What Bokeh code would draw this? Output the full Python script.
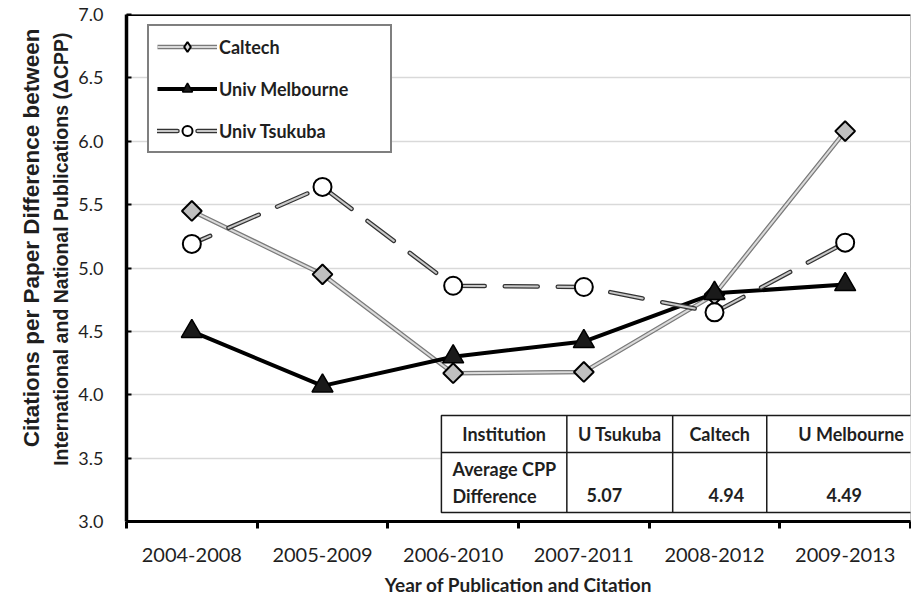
import math
from bokeh.plotting import figure
from bokeh.models import (Range1d, FixedTicker, Legend, LegendItem, Span, Title,
                          ColumnDataSource, NumeralTickFormatter)
from bokeh.core.properties import value
from bokeh.embed import file_html
from bokeh.resources import INLINE

# ---------------- data ----------------
periods = ["2004-2008", "2005-2009", "2006-2010", "2007-2011", "2008-2012", "2009-2013"]
caltech = [5.45, 4.95, 4.17, 4.18, 4.79, 6.08]
melbourne = [4.50, 4.07, 4.30, 4.42, 4.80, 4.87]
tsukuba = [5.19, 5.64, 4.86, 4.85, 4.65, 5.20]
y_ticks = [3.0, 3.5, 4.0, 4.5, 5.0, 5.5, 6.0, 6.5, 7.0]
grid_ticks = [3.5, 4.0, 4.5, 5.0, 5.5, 6.0, 6.5]

series_names = ["Caltech", "Univ Melbourne", "Univ Tsukuba"]
x_title = "Year of Publication and Citation"
y_title_lines = ["Citations per Paper Difference between",
                 "International and National Publications (\u0394CPP)"]

table_header = ["Institution", "U Tsukuba", "Caltech", "U Melbourne"]
table_row_label = "Average CPP\nDifference"
table_values = ["5.07", "4.94", "4.49"]

# ---------------- layout (table geometry in data units) ----------------
tbl_cols = [1.91, 2.87, 3.68, 4.40, 5.69]
tbl_rows = [3.836, 3.544, 3.071]
tbl_label_x = 1.994
tbl_value_x = [3.157, 4.091, 4.993]
tbl_value_y = 3.213

FONT = "Lato"
TXT = "#1f1f1f"

x = list(range(len(periods)))
src = ColumnDataSource(dict(x=x, caltech=caltech, melbourne=melbourne, tsukuba=tsukuba))

p = figure(width=911, height=605, output_backend="svg", toolbar_location=None,
           x_range=Range1d(-0.5, len(periods) - 0.5), y_range=Range1d(3.0, 7.0),
           min_border_left=126, min_border_right=1, min_border_top=14, min_border_bottom=84)
p.background_fill_color = "white"
p.border_fill_color = "white"
p.outline_line_color = "#bfbfbf"
p.outline_line_width = 1

# grid
p.xgrid.visible = False
p.ygrid.ticker = FixedTicker(ticks=grid_ticks)
p.ygrid.grid_line_color = "#d9d9d9"
p.ygrid.grid_line_width = 1.5

# x axis
xa = p.xaxis[0]
xa.ticker = FixedTicker(ticks=x, minor_ticks=[i - 0.5 for i in range(len(periods) + 1)])
xa.major_label_overrides = {i: lab for i, lab in enumerate(periods)}
xa.major_tick_in = 0
xa.major_tick_out = 0
xa.minor_tick_in = 0
xa.minor_tick_out = 7
xa.minor_tick_line_width = 3
xa.minor_tick_line_color = "black"
xa.axis_line_width = 3
xa.axis_line_color = "black"
xa.major_label_standoff = 19
xa.major_label_text_font = FONT
xa.major_label_text_font_size = "20px"
xa.major_label_text_color = TXT
xa.axis_label = x_title
xa.axis_label_text_font = FONT
xa.axis_label_text_font_style = "bold"
xa.axis_label_text_font_size = "19px"
xa.axis_label_text_color = TXT
xa.axis_label_standoff = 8

# y axis
ya = p.yaxis[0]
ya.ticker = FixedTicker(ticks=y_ticks)
ya.formatter = NumeralTickFormatter(format="0.0")
ya.major_tick_in = 5
ya.major_tick_out = 0
ya.major_tick_line_width = 2
ya.minor_tick_line_color = None
ya.axis_line_width = 3.5
ya.axis_line_color = "black"
ya.major_label_standoff = 23
ya.major_label_text_font = FONT
ya.major_label_text_font_size = "18px"
ya.major_label_text_color = TXT

# y title as two stacked left titles (inner line first), ends anchored near the top
p.add_layout(Title(text=y_title_lines[1], align="right", offset=18, standoff=8,
                   text_font="Liberation Sans", text_font_style="bold",
                   text_font_size="19.5px", text_color=TXT), "left")
p.add_layout(Title(text=y_title_lines[0], align="right", offset=14, standoff=0,
                   text_font="Liberation Sans", text_font_style="bold",
                   text_font_size="22.5px", text_color=TXT), "left")

# top border line
p.add_layout(Span(location=7.0, dimension="width", line_color="black", line_width=3))

# ---------------- table ----------------
p.quad(left=[tbl_cols[0]], right=[tbl_cols[-1]], top=[tbl_rows[0]], bottom=[tbl_rows[-1]],
       fill_color="white", line_color="#1a1a1a", line_width=1.5)
p.segment(x0=tbl_cols[1:-1], x1=tbl_cols[1:-1],
          y0=[tbl_rows[0]] * (len(tbl_cols) - 2), y1=[tbl_rows[-1]] * (len(tbl_cols) - 2),
          line_color="#1a1a1a", line_width=1.5)
p.segment(x0=[tbl_cols[0]], x1=[tbl_cols[-1]], y0=[tbl_rows[1]], y1=[tbl_rows[1]],
          line_color="#1a1a1a", line_width=1.5)
hdr_x = [(tbl_cols[i] + tbl_cols[i + 1]) / 2 for i in range(len(tbl_cols) - 1)]
hdr_y = (tbl_rows[0] + tbl_rows[1]) / 2
p.text(x=hdr_x, y=[hdr_y] * len(hdr_x), text=table_header, text_align="center",
       text_baseline="middle", text_font=value(FONT), text_font_style="bold",
       text_font_size="18px", text_color=TXT)
p.text(x=[tbl_label_x], y=[(tbl_rows[1] + tbl_rows[2]) / 2], text=[table_row_label],
       text_align="left", text_baseline="middle", text_font=value(FONT),
       text_font_style="bold", text_font_size="18px", text_color=TXT, text_line_height=1.2)
p.text(x=tbl_value_x, y=[tbl_value_y] * len(tbl_value_x), text=table_values,
       text_align="center", text_baseline="middle", text_font=value(FONT),
       text_font_style="bold", text_font_size="18px", text_color=TXT)

# ---------------- series ----------------
c_out = p.line("x", "caltech", source=src, line_color="#7a7a7a", line_width=4.5)
c_in = p.line("x", "caltech", source=src, line_color="#dadada", line_width=2)
m_line = p.line("x", "melbourne", source=src, line_color="black", line_width=4)
t_out = p.line("x", "tsukuba", source=src, line_color="#333333", line_width=4.5,
               line_dash="33 20", line_dash_offset=13, line_cap="round")
t_in = p.line("x", "tsukuba", source=src, line_color="#c8c8c8", line_width=2,
              line_dash="33 20", line_dash_offset=13, line_cap="round")

# small markers used as legend glyphs (fully hidden under the chart markers)
c_leg = p.scatter("x", "caltech", source=src, marker="diamond", size=14,
                  fill_color="#d9d9d9", line_color="black", line_width=2)
m_leg = p.scatter("x", "melbourne", source=src, marker="triangle", size=16,
                  fill_color="#1a1a1a", line_color="black", line_width=1.5)
t_leg = p.scatter("x", "tsukuba", source=src, marker="circle", size=13,
                  fill_color="white", line_color="black", line_width=2)

# chart markers
p.scatter("x", "caltech", source=src, marker="square", angle=math.pi / 4, size=14,
          fill_color="#bfbfbf", line_color="black", line_width=2)
p.scatter("x", "melbourne", source=src, marker="triangle", size=21,
          fill_color="#1a1a1a", line_color="black", line_width=1.5)
p.scatter("x", "tsukuba", source=src, marker="circle", size=18,
          fill_color="white", line_color="black", line_width=2)

legend = Legend(items=[
    LegendItem(label=series_names[0], renderers=[c_out, c_in, c_leg]),
    LegendItem(label=series_names[1], renderers=[m_line, m_leg]),
    LegendItem(label=series_names[2], renderers=[t_out, t_in, t_leg]),
], location=(21, 368), padding=8, spacing=17, label_height=25, glyph_height=25,
    glyph_width=60, label_standoff=2, label_width=163, margin=0,
    border_line_color="black", border_line_width=2.5, background_fill_color="white",
    background_fill_alpha=1.0, label_text_font=FONT, label_text_font_style="bold",
    label_text_font_size="18px", label_text_color=TXT)
p.add_layout(legend)

open("out.html", "w").write(file_html(p, INLINE))
